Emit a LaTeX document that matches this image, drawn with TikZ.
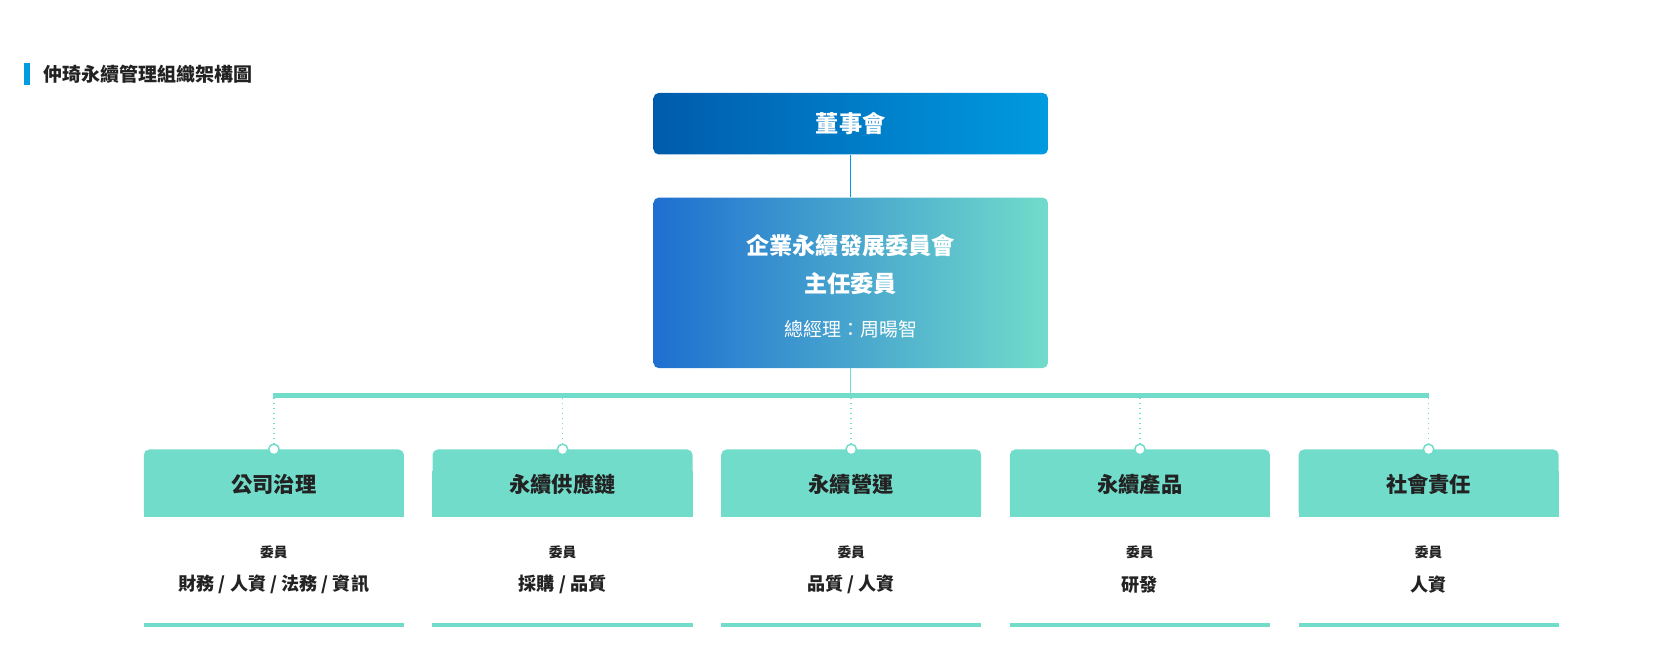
\documentclass[tikz,border=0pt]{standalone}
\usepackage{fontspec}
\setmainfont{Noto Sans CJK TC}
\usetikzlibrary{positioning,calc}
\definecolor{dblue}{HTML}{005BAC}
\definecolor{lblue}{HTML}{009BE0}
\definecolor{mblue}{HTML}{1E6FD0}
\definecolor{teal}{HTML}{72DCCB}
\definecolor{ink}{HTML}{222222}
\tikzset{
  board/.style={rounded corners=3pt,minimum width=7.89cm,minimum height=1.23cm,left color=dblue,right color=lblue,text=white,font=\bfseries\fontsize{13.2}{15}\selectfont},
  ctee/.style={rounded corners=3pt,minimum width=7.89cm,minimum height=3.41cm,left color=mblue,right color=teal},
  head/.style={rounded corners=3pt,fill=teal,minimum width=5.2cm,minimum height=1.35cm,text=ink,font=\bfseries\fontsize{12.1}{14}\selectfont},
  dot/.style={circle,fill=white,draw=teal,line width=0.85pt,inner sep=0pt,minimum size=0.21cm},
  link/.style={teal,line width=0.85pt,dotted}
}
\begin{document}
\begin{tikzpicture}[x=0.02115cm,y=-0.02115cm]
\useasboundingbox (0,0) rectangle (1567,629);
% title
\fill[lblue] (23,60) rectangle (28,80);
\node[anchor=west,text=ink,font=\bfseries\fontsize{10.8}{13}\selectfont] (title) at (35,70) {仲琦永續管理組織架構圖};
% top
\node[board] (bod) at (804.5,117) {董事會};
\node[ctee] (sdc) at (804.5,267.5) {};
\node[text=white,font=\bfseries\fontsize{13.2}{15}\selectfont] (sdc1) at (804.5,232) {企業永續發展委員會};
\node[text=white,font=\bfseries\fontsize{13.2}{15}\selectfont] (sdc2) at (804.5,268) {主任委員};
\node[text=white,font=\fontsize{10.8}{13}\selectfont] (sdc3) at (804.5,311) {總經理：周暘智};
\draw[lblue,line width=0.85pt] (bod.south) -- (sdc.north);
\coordinate (bus) at (804.5,374);
\draw[teal,line width=0.85pt] (sdc.south) -- (bus);
\draw[teal,line width=3pt] (258,374) -- (1351,374);
% committees
\foreach \i/\x/\name/\who in {1/259/公司治理/{財務 / 人資 / 法務 / 資訊},2/532/永續供應鏈/{採購 / 品質},3/805/永續營運/{品質 / 人資},4/1078/永續產品/研發,5/1351/社會責任/人資}{
  \node[head] (h\i) at (\x,457) {};
  \fill[teal] (\x-123,445) rectangle (\x+123,489);
  \node[text=ink,font=\bfseries\fontsize{12.1}{14}\selectfont] at (\x,458) {\name};
  \coordinate (t\i) at (\x,376);
  \node[dot] (d\i) at (\x,425) {};
  \draw[link] (t\i) -- (d\i.north);
  \node[text=ink,font=\bfseries\fontsize{7.8}{9}\selectfont] (m\i) at (\x,522) {委員};
  \node[text=ink,font=\bfseries\fontsize{10.3}{12}\selectfont] (w\i) at (\x,553) {\who};
  \draw[teal,line width=1.8pt] (\x-123,591) -- (\x+123,591);
}
\end{tikzpicture}
\end{document}
